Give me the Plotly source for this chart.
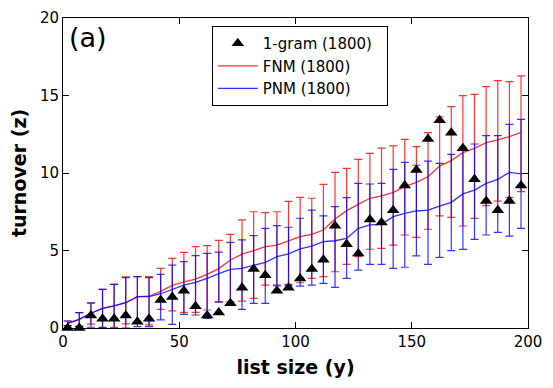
import plotly.graph_objects as go

list_size = [2, 7, 12, 17, 22, 27, 32, 37, 42, 47, 52, 57, 62, 67, 72, 77, 82, 87, 92, 97,
             102, 107, 112, 117, 122, 127, 132, 137, 142, 147, 152, 157, 162, 167, 172, 177, 182, 187, 192, 197]

onegram = [0.0, 0.0, 0.8, 0.6, 0.6, 0.8, 0.4, 0.6, 1.8, 2.0, 2.4, 1.4, 0.8, 1.0, 1.6, 2.6, 3.8, 3.4, 2.4, 2.6,
           3.2, 3.8, 4.4, 6.6, 5.4, 4.8, 7.0, 6.8, 7.6, 9.2, 10.2, 12.2, 13.4, 12.6, 11.6, 9.6, 8.2, 7.6, 8.2, 9.2]

fnm_mean = [0.30, 0.56, 0.95, 1.27, 1.42, 1.63, 2.02, 2.05, 2.36, 2.75, 2.97, 3.16, 3.46, 3.83, 4.39, 4.77, 4.99, 5.25, 5.35, 5.60,
            5.89, 6.04, 6.32, 7.03, 7.57, 7.98, 8.37, 8.52, 8.75, 9.12, 9.40, 9.76, 10.45, 10.80, 11.31, 11.59, 11.96, 12.13, 12.34, 12.62]
fnm_upper = [0.45, 0.99, 1.63, 2.49, 2.82, 3.30, 3.31, 3.31, 3.85, 4.49, 4.88, 5.25, 5.31, 5.65, 6.04, 6.97, 7.50, 7.44, 7.50, 8.17,
             8.43, 8.37, 9.27, 10.04, 10.30, 10.88, 11.27, 11.60, 11.75, 12.17, 11.70, 12.60, 13.63, 14.28, 14.99, 15.07, 15.57, 15.96, 15.89, 16.26]
fnm_lower = [0.15, 0.10, 0.25, 0.05, 0.05, 0.26, 0.30, 0.20, 1.20, 1.10, 1.01, 1.01, 1.16, 1.70, 1.70, 1.74, 1.91, 2.77, 2.71, 2.82,
             2.92, 3.20, 3.31, 3.63, 4.11, 4.60, 5.08, 5.14, 5.35, 6.00, 5.85, 6.37, 7.24, 7.14, 6.58, 7.07, 7.89, 8.19, 8.43, 8.80]

pnm_mean = [0.30, 0.56, 0.95, 1.27, 1.42, 1.63, 2.02, 2.02, 2.21, 2.49, 2.77, 2.95, 3.20, 3.51, 3.78, 3.85, 4.06, 4.24, 4.60, 4.78,
            5.10, 5.29, 5.57, 5.63, 5.78, 6.43, 6.65, 6.69, 7.18, 7.40, 7.55, 7.60, 7.86, 8.11, 8.65, 8.90, 9.33, 9.59, 10.04, 9.94]
pnm_upper = [0.45, 0.99, 1.60, 2.49, 2.82, 3.25, 3.31, 3.25, 3.46, 4.06, 4.28, 4.67, 4.82, 4.90, 5.53, 5.68, 5.96, 6.43, 6.60, 6.50,
             7.08, 7.61, 7.23, 7.83, 8.41, 9.33, 9.29, 9.33, 10.24, 10.69, 10.50, 10.77, 10.62, 11.20, 11.66, 11.87, 12.41, 12.41, 13.14, 13.46]
pnm_lower = [0.15, 0.10, 0.05, 0.02, 0.00, 0.00, 0.09, 0.09, 0.52, 0.24, 0.88, 0.84, 0.62, 1.66, 1.50, 1.20, 1.59, 1.59, 2.77, 2.75,
             2.70, 2.77, 2.88, 2.62, 3.20, 3.74, 4.11, 4.11, 3.85, 3.92, 4.65, 4.11, 4.56, 4.99, 5.07, 5.72, 6.00, 6.17, 5.93, 6.43]

x_ticks = [0, 50, 100, 150, 200]
y_ticks = [0, 5, 10, 15, 20]

RED = "rgba(255,0,0,0.8)"
BLUE = "rgba(0,0,255,0.8)"
FONT = "DejaVu Sans"
PAD = "\u00a0\u00a0"


def err(mean, up, lo):
    return [u - m for u, m in zip(up, mean)], [m - l for m, l in zip(mean, lo)]


fig = go.Figure()

fu, fl = err(fnm_mean, fnm_upper, fnm_lower)
fig.add_trace(go.Scatter(
    x=list_size, y=fnm_mean, mode="lines", name="FNM (1800)" + PAD, legendrank=2,
    line=dict(color=RED, width=1.3),
    error_y=dict(type="data", symmetric=False, array=fu, arrayminus=fl,
                 color=RED, thickness=1.2, width=4),
))

pu, pl = err(pnm_mean, pnm_upper, pnm_lower)
fig.add_trace(go.Scatter(
    x=list_size, y=pnm_mean, mode="lines", name="PNM (1800)" + PAD, legendrank=3,
    line=dict(color=BLUE, width=1.3),
    error_y=dict(type="data", symmetric=False, array=pu, arrayminus=pl,
                 color=BLUE, thickness=1.2, width=4),
))

fig.add_trace(go.Scatter(
    x=list_size, y=onegram, mode="markers", name="1-gram (1800)" + PAD, legendrank=1,
    marker=dict(symbol="triangle-up", size=11, color="black"),
    cliponaxis=False,
))

axis_common = dict(
    showline=True, linecolor="black", linewidth=1, mirror="ticks",
    ticks="inside", ticklen=6, tickcolor="black", tickwidth=1,
    showgrid=False, zeroline=False, automargin=False,
    tickfont=dict(family=FONT, size=15, color="black"),
)

# page body has an 8px default margin; figure sized to fit the 553x388 window
fig.update_layout(
    width=545, height=380,
    margin=dict(l=55, r=25, t=10, b=60),
    paper_bgcolor="white", plot_bgcolor="white",
    font=dict(family=FONT, color="black"),
    xaxis=dict(range=[0, 200], tickvals=x_ticks, ticktext=[str(v) for v in x_ticks],
               title=dict(text="<b>list size (y)</b>", font=dict(family=FONT, size=19), standoff=10),
               **axis_common),
    yaxis=dict(range=[0, 20], tickvals=y_ticks, ticktext=[str(v) for v in y_ticks],
               title=dict(text="<b>turnover (z)</b>", font=dict(family=FONT, size=19), standoff=10),
               **axis_common),
    legend=dict(x=0.32, y=0.974, xanchor="left", yanchor="top",
                bgcolor="white", bordercolor="black", borderwidth=1,
                font=dict(family=FONT, size=15), tracegroupgap=0,
                itemwidth=40),
    showlegend=True,
    annotations=[dict(text="(a)", x=0.008, y=0.995, xref="paper", yref="paper",
                      xanchor="left", yanchor="top", showarrow=False,
                      font=dict(family=FONT, size=27, color="black"))],
)

fig.write_html("out.html")
